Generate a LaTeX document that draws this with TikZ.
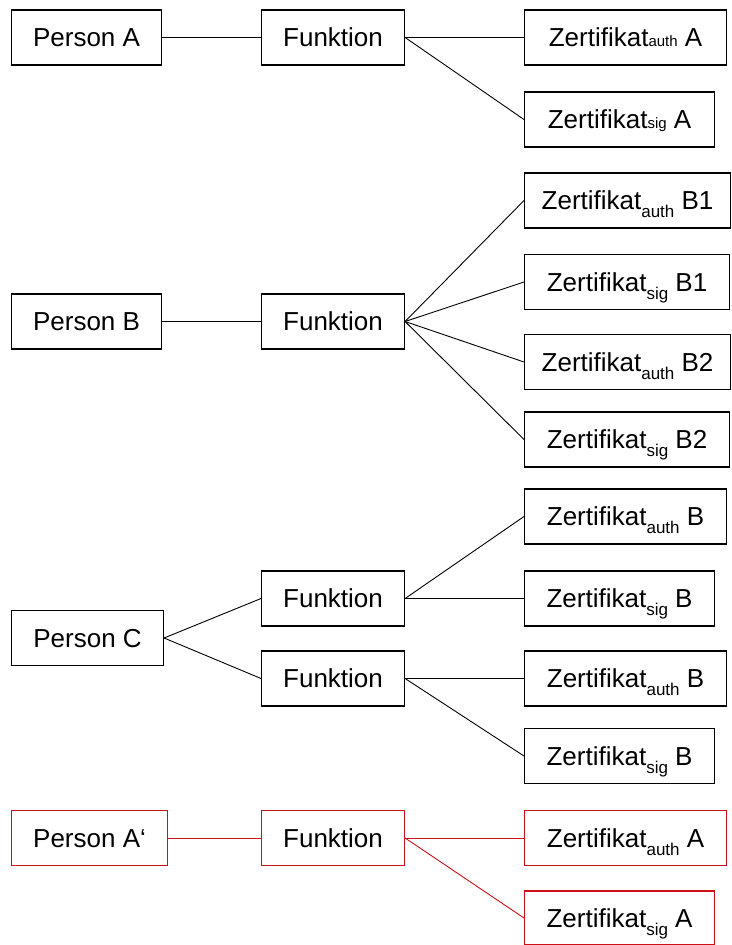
\documentclass[tikz,border=0pt]{standalone}
\usepackage{fontspec}
\setmainfont{Liberation Sans}
\definecolor{alertred}{RGB}{204,16,24}
% small index set on the baseline (first group) and lowered subscript (others)
\newcommand{\idxflat}[1]{\raisebox{0pt}[0pt][0pt]{\fontsize{15}{17}\selectfont #1}}
\newcommand{\idxlow}[1]{\raisebox{-8pt}[0pt][0pt]{\fontsize{17}{20}\selectfont #1}}
\begin{document}
\begin{tikzpicture}[x=1pt,y=-1pt,
  box/.style={draw, rectangle, line width=1.1pt, inner sep=0pt,
    minimum height=55pt, text height=18.6pt, text depth=0pt,
    font=\fontsize{26}{30}\selectfont, anchor=west},
  link/.style={line width=0.9pt},
  revised/.style={draw=alertred}]
\useasboundingbox (0,0) rectangle (731,945);

% --- Person A
\node[box, minimum width=150] (pA) at (11,37.5) {Person A};
\node[box, minimum width=143] (fA) at (261,37.5) {Funktion};
\node[box, minimum width=202] (aA) at (524,37.5) {Zertifikat\idxflat{auth} A};
\node[box, minimum width=190] (sA) at (524,119.5) {Zertifikat\idxflat{sig} A};
\draw[link] (pA.east) -- (fA.west);
\draw[link] (fA.east) -- (aA.west);
\draw[link] (fA.east) -- (sA.west);

% --- Person B
\node[box, minimum width=150] (pB) at (11,321.5) {Person B};
\node[box, minimum width=143] (fB) at (261,321.5) {Funktion};
\node[box, minimum width=206] (aB1) at (524,200.5) {Zertifikat\idxlow{auth} B1};
\node[box, minimum width=205] (sB1) at (524,282) {Zertifikat\idxlow{sig} B1};
\node[box, minimum width=206] (aB2) at (524,362) {Zertifikat\idxlow{auth} B2};
\node[box, minimum width=205] (sB2) at (524,439.5) {Zertifikat\idxlow{sig} B2};
\draw[link] (pB.east) -- (fB.west);
\foreach \c in {aB1,sB1,aB2,sB2}
  \draw[link] (fB.east) -- (\c.west);

% --- Person C
\node[box, minimum width=152] (pC) at (11,638) {Person C};
\node[box, minimum width=143] (fC1) at (261,598.5) {Funktion};
\node[box, minimum width=143] (fC2) at (261,678.5) {Funktion};
\node[box, minimum width=202] (aC1) at (524,516.5) {Zertifikat\idxlow{auth} B};
\node[box, minimum width=190] (sC1) at (524,598.5) {Zertifikat\idxlow{sig} B};
\node[box, minimum width=202] (aC2) at (524,678.5) {Zertifikat\idxlow{auth} B};
\node[box, minimum width=190] (sC2) at (524,756) {Zertifikat\idxlow{sig} B};
\draw[link] (pC.east) -- (fC1.west);
\draw[link] (pC.east) -- (fC2.west);
\draw[link] (fC1.east) -- (aC1.west);
\draw[link] (fC1.east) -- (sC1.west);
\draw[link] (fC2.east) -- (aC2.west);
\draw[link] (fC2.east) -- (sC2.west);

% --- Person A' (revised, drawn in red)
\node[box, revised, minimum width=156] (pA2) at (11,838) {Person A‘};
\node[box, revised, minimum width=143] (fA2) at (261,838) {Funktion};
\node[box, revised, minimum width=202] (aA2) at (524,838) {Zertifikat\idxlow{auth} A};
\node[box, revised, minimum width=190, minimum height=54pt] (sA2) at (524,918) {Zertifikat\idxlow{sig} A};
\draw[link, alertred] (pA2.east) -- (fA2.west);
\draw[link, alertred] (fA2.east) -- (aA2.west);
\draw[link, alertred] (fA2.east) -- (sA2.west);
\end{tikzpicture}
\end{document}
